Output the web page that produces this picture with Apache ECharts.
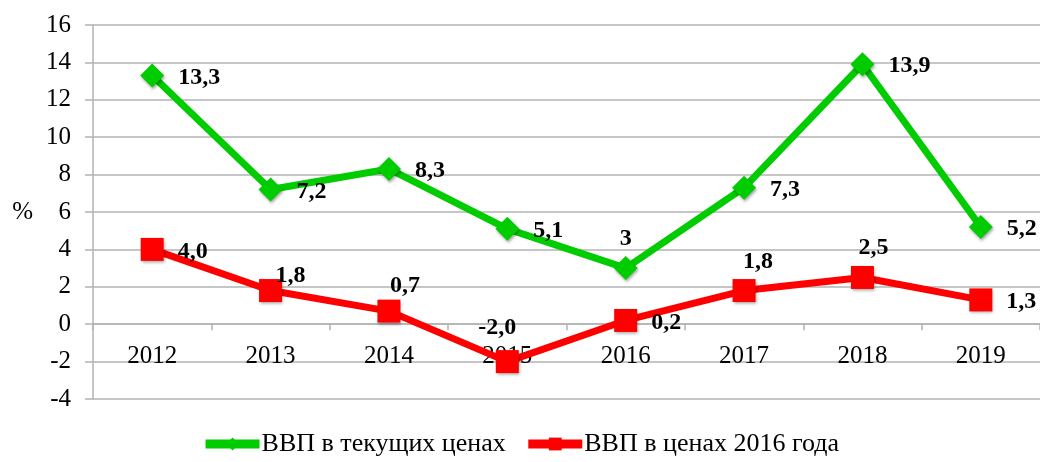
<!DOCTYPE html>
<html><head><meta charset="utf-8">
<script src="https://cdn.jsdelivr.net/npm/echarts@6/dist/echarts.min.js"></script>
<style>html,body{margin:0;padding:0;background:#fff}#c{width:1040px;height:462px}</style>
</head><body><div id="c"></div>
<script>
const categories = ['2012','2013','2014','2015','2016','2017','2018','2019'];
const currentPrices = [13.3, 7.2, 8.3, 5.1, 3, 7.3, 13.9, 5.2];
const constPrices = [4.0, 1.8, 0.7, -2.0, 0.2, 1.8, 2.5, 1.3];
const currentLabels = ['13,3','7,2','8,3','5,1','3','7,3','13,9','5,2'];
const constLabels = ['4,0','1,8','0,7','-2,0','0,2','1,8','2,5','1,3'];
const seriesNames = ['ВВП в текущих ценах', 'ВВП в ценах 2016 года'];
const yMin = -4, yMax = 16, yStep = 2;
const yName = '%';

// label placement (style only): null = to the right of the marker, [dx,dy] = offset from marker centre
const currentPlace = [null, null, null, null, [0,-29], null, null, null];
const constPlace = [null, [20,-15], [16,-25], [-10,-34], null, [14,-29], [11,-30], null];

const FONT = '"Liberation Serif", "Times New Roman", serif';
const GRID = '#b3b3b3';
const GREEN = '#00CC00', RED = '#FF0000';

function buildData(values, labels, place) {
  return values.map((v, i) => {
    const p = place[i];
    const lab = p
      ? { position: 'inside', offset: p, align: 'center', verticalAlign: 'middle' }
      : { position: 'right', distance: 14, offset: [0, 2] };
    return { value: v, label: Object.assign({ formatter: labels[i] }, lab) };
  });
}

const chart = echarts.init(document.getElementById('c'), null, { renderer: 'canvas' });
const labelCommon = { show: true, fontFamily: FONT, fontSize: 24, fontWeight: 'bold', color: '#000' };
const shadow = { shadowBlur: 3, shadowColor: 'rgba(0,0,0,0.35)', shadowOffsetX: 1, shadowOffsetY: 2 };

const option = {
  animation: false,
  backgroundColor: '#fff',
  grid: { left: 93, right: -3, top: 25, bottom: 63, containLabel: false },
  legend: {
    bottom: 0, left: 'center',
    itemWidth: 54, itemHeight: 16, itemGap: 18,
    textStyle: { fontFamily: FONT, fontSize: 26, color: '#000', padding: [0, 0, 0, -3] },
    data: [
      { name: seriesNames[0], itemStyle: { color: GREEN, shadowBlur: 0 }, lineStyle: { color: GREEN, width: 9 } },
      { name: seriesNames[1], itemStyle: { color: RED, shadowBlur: 0 }, lineStyle: { color: RED, width: 9 } }
    ]
  },
  xAxis: {
    type: 'category', data: categories, boundaryGap: true,
    axisLine: { onZero: true, lineStyle: { color: GRID, width: 1.5 } },
    axisTick: { show: true, length: 6, interval: 0, lineStyle: { color: GRID, width: 1.5 } },
    axisLabel: { margin: 20, fontFamily: FONT, fontSize: 25, color: '#000' },
    splitLine: { show: false }
  },
  yAxis: {
    type: 'value', min: yMin, max: yMax, interval: yStep,
    name: yName, nameLocation: 'middle', nameRotate: 0, nameGap: 60,
    nameTextStyle: { fontFamily: FONT, fontSize: 25, color: '#000', padding: [6, 0, 0, 0] },
    axisLine: { show: true, lineStyle: { color: GRID, width: 1.5 } },
    axisTick: { show: true, length: 8, lineStyle: { color: GRID, width: 1.5 } },
    axisLabel: { margin: 22, fontFamily: FONT, fontSize: 25, color: '#000' },
    splitLine: { show: true, lineStyle: { color: GRID, width: 1.5 } }
  },
  series: [
    {
      name: seriesNames[0], type: 'line',
      data: buildData(currentPrices, currentLabels, currentPlace),
      symbol: 'diamond', symbolSize: 24,
      lineStyle: { color: GREEN, width: 7 },
      itemStyle: Object.assign({ color: GREEN }, shadow),
      label: labelCommon, z: 3
    },
    {
      name: seriesNames[1], type: 'line',
      data: buildData(constPrices, constLabels, constPlace),
      symbol: 'rect', symbolSize: 23,
      lineStyle: { color: RED, width: 7 },
      itemStyle: Object.assign({ color: RED }, shadow),
      label: labelCommon, z: 3
    }
  ]
};
chart.setOption(option);

// place the category axis on the value 0 line (via the value scale)
const zeroY = chart.convertToPixel({ yAxisIndex: 0 }, 0);
const bottomY = chart.convertToPixel({ yAxisIndex: 0 }, yMin);
if (Math.abs(zeroY - bottomY) > 1) {
  chart.setOption({ xAxis: { axisLine: { onZero: false }, offset: zeroY - bottomY } });
}
</script>
</body></html>
